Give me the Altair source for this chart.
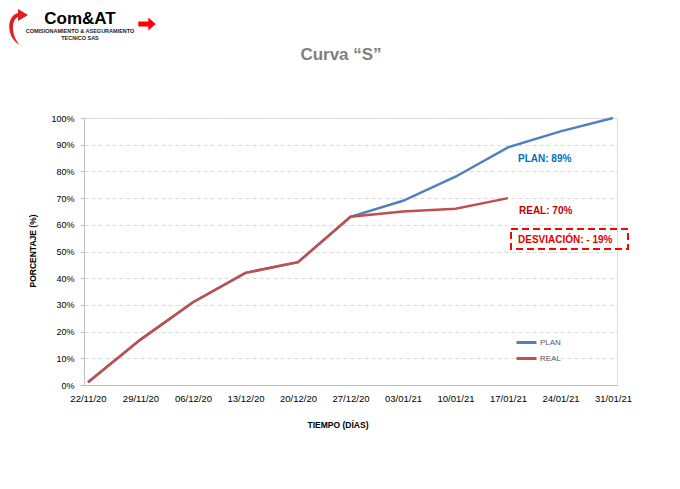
import altair as alt
import pandas as pd

# ---- data ----
dates = ["22/11/20", "29/11/20", "06/12/20", "13/12/20", "20/12/20", "27/12/20",
         "03/01/21", "10/01/21", "17/01/21", "24/01/21", "31/01/21"]
plan = [0.01, 0.17, 0.31, 0.42, 0.46, 0.63, 0.69, 0.78, 0.89, 0.95, 1.00]
real = [0.01, 0.17, 0.31, 0.42, 0.46, 0.63, 0.65, 0.66, 0.70, None, None]
series = ["PLAN", "REAL"]
colors = ["#4F81BD", "#C0504D"]

title_text = "Curva \u201cS\u201d"
x_title = "TIEMPO (D\u00cdAS)"
y_title = "PORCENTAJE (%)"
plan_note = "PLAN: 89%"
real_note = "REAL: 70%"
dev_note = "DESVIACI\u00d3N: - 19%"
logo_main = "Com&AT"
logo_sub1 = "COMISIONAMIENTO & ASEGURAMIENTO"
logo_sub2 = "TECNICO SAS"

rows = []
for d, p, r in zip(dates, plan, real):
    rows.append({"fecha": d, "serie": "PLAN", "valor": p})
    if r is not None:
        rows.append({"fecha": d, "serie": "REAL", "valor": r})
df = pd.DataFrame(rows)

W, H = 533, 267
FONT = "Liberation Sans"

lines = alt.Chart(df).mark_line(strokeWidth=2.5).encode(
    x=alt.X("fecha:O", sort=dates,
            scale=alt.Scale(type="point", padding=0.076),
            axis=alt.Axis(title=None, labelAngle=0, labelFontSize=9.5, labelFont=FONT,
                          labelColor="#000000", ticks=False, domainColor="#BFBFBF",
                          labelPadding=8, grid=False)),
    y=alt.Y("valor:Q", scale=alt.Scale(domain=[0, 1]),
            axis=alt.Axis(title=None, format="%", values=[i / 10 for i in range(11)],
                          labelFontSize=9, labelFont=FONT, labelColor="#000000",
                          tickSize=4, tickColor="#BFBFBF", domainColor="#BFBFBF",
                          gridColor="#D9D9D9", gridDash=[4, 3], labelPadding=6)),
    color=alt.Color("serie:N", scale=alt.Scale(domain=series, range=colors),
                    legend=alt.Legend(title=None, orient="none", legendX=433, legendY=215,
                                      symbolType="M-1.25,0L1.25,0", symbolSize=256,
                                      symbolStrokeWidth=3, labelFontSize=8,
                                      labelFont=FONT, labelColor="#595959",
                                      rowPadding=0, labelOffset=4)),
    detail="serie:N",
)

one = pd.DataFrame({"k": [0]})


def txt(text, x, y, size, color, weight="normal", angle=0, font=FONT, align="center"):
    return alt.Chart(one).mark_text(text=text, fontSize=size, color=color, fontWeight=weight,
                                    angle=angle, font=font, align=align,
                                    baseline="middle").encode(x=alt.value(x), y=alt.value(y))


title = txt(title_text, 257, -63, 17, "#7F7F7F", "bold", font="Liberation Sans")
xt = txt(x_title, 254, 307, 8.5, "#000000", "bold")
yt = txt(y_title, -51, 133, 8.5, "#000000", "bold", angle=270)
n1 = txt(plan_note, 434, 41, 10, "#0070C0", "bold", align="left")
n2 = txt(real_note, 435, 93, 10, "#C00000", "bold", align="left")
n3 = txt(dev_note, 434, 122, 10, "#E00000", "bold", align="left")

box = alt.Chart(one).mark_rect(fill=None, stroke="#FF0000", strokeWidth=2,
                               strokeDash=[7, 4]).encode(
    x=alt.value(427), x2=alt.value(544), y=alt.value(111), y2=alt.value(131))

logo1 = txt(logo_main, -4, -99, 17, "#000000", "bold")
logo2 = txt(logo_sub1, -4, -87, 5.5, "#222222", "bold")
logo3 = txt(logo_sub2, -4, -80, 5.5, "#222222", "bold")

arrow_right = alt.Chart(one).mark_point(
    shape="M-1,-0.3 L0.15,-0.3 L0.15,-0.75 L1,0 L0.15,0.75 L0.15,0.3 L-1,0.3 Z",
    filled=True, color="#FF0000", size=300, opacity=1).encode(
    x=alt.value(63), y=alt.value(-94))

arrow_curve = alt.Chart(one).mark_point(
    shape="M0.1,0.95 C-0.6,0.6 -0.6,-0.5 0.0,-0.65 L0.0,-0.85 L0.5,-0.55 L0.0,-0.25 "
          "L0.0,-0.45 C-0.35,-0.3 -0.35,0.5 0.1,0.95 Z",
    filled=True, color="#E31E1E", size=1600, opacity=1).encode(
    x=alt.value(-66), y=alt.value(-92))

chart = alt.layer(lines, title, xt, yt, box, n1, n2, n3, logo1, logo2, logo3,
                  arrow_right, arrow_curve).properties(
    width=W, height=H,
    padding={"left": 76, "top": 110, "right": 55, "bottom": 96},
    autosize=alt.AutoSizeParams(type="none"),
).configure_view(stroke=None).configure(background="white")

chart.save("out.html", embed_options={"renderer": "svg", "actions": False})
